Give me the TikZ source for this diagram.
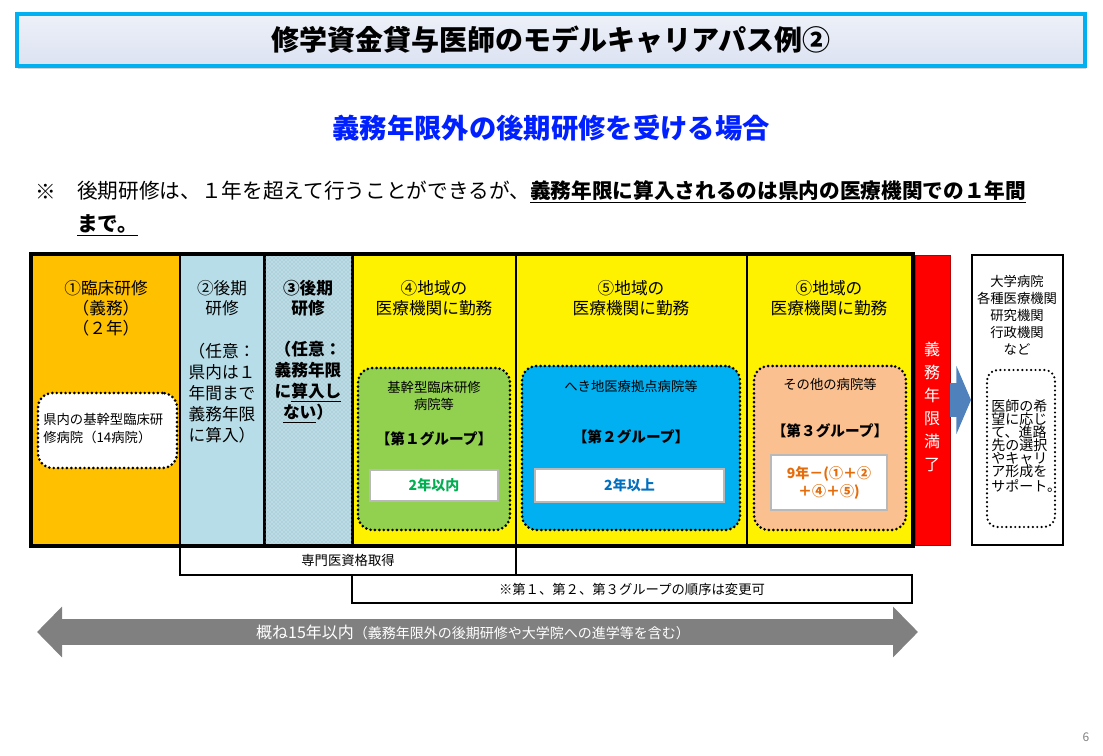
\documentclass[tikz,border=0pt]{standalone}
\usepackage{fontspec}
\setmainfont{Noto Sans CJK JP}
\usetikzlibrary{arrows.meta, positioning, calc, fit, patterns, shadows}
\definecolor{titlecyan}{HTML}{00B0F0}
\definecolor{titlefill}{HTML}{DCE2F2}
\definecolor{orangecol}{HTML}{FFC000}
\definecolor{paleblue}{HTML}{B7DDE8}
\definecolor{greenbox}{HTML}{92D050}
\definecolor{bluebox}{HTML}{00B0F0}
\definecolor{salmonbox}{HTML}{FAC090}
\definecolor{greentxt}{HTML}{00B050}
\definecolor{bluetxt}{HTML}{0070C0}
\definecolor{orangetxt}{HTML}{E46C0A}
\definecolor{subblue}{HTML}{0020FF}
\definecolor{arrowblue}{HTML}{4F81BD}
\definecolor{spangray}{HTML}{808080}
\newcommand{\fsz}[2]{\fontsize{#1}{#2}\selectfont}

\begin{document}
\begin{tikzpicture}[
  x=0.75pt, y=-0.75pt,
  colbox/.style  = {inner sep=0pt, draw, line width=1.5pt},
  colhead/.style = {align=center, inner sep=0pt, font=\fsz{12.5}{15}},
  colbody/.style = {align=center, inner sep=0pt, font=\fsz{12.5}{15.75}},
  grpbox/.style  = {inner sep=0pt, draw, line width=2.2pt, line cap=round,
                    dash pattern=on 0pt off 3.3pt, rounded corners=11pt},
  yrbox/.style   = {inner sep=0pt, draw=gray!55, line width=0.8pt, fill=white},
  grptxt/.style  = {align=center, inner sep=0pt, font=\fsz{10}{12.75}},
  grplbl/.style  = {inner sep=0pt, font=\bfseries\fsz{11}{11}},
  yrtxt/.style   = {align=center, inner sep=0pt, font=\bfseries\fsz{10.5}{13.5}},
  notebox/.style = {inner sep=0pt, draw, line width=1.2pt},
  smltxt/.style  = {inner sep=0pt, font=\fsz{10}{10}},
]
\useasboundingbox (0,0) rectangle (1103,756);

% ---------- title and heading ----------
\node[fit={(17,14)(1085,66)}, inner sep=0pt, draw=titlecyan, line width=2.5pt,
      top color=titlefill!50, middle color=white, bottom color=titlefill,
      drop shadow={shadow xshift=1pt, shadow yshift=-2.5pt, opacity=0.35}] (titlebox) {};
\node[font=\bfseries\fsz{21}{21}] (title) at (titlebox.center) {修学資金貸与医師のモデルキャリアパス例②};
\node[text=subblue, font=\bfseries\fsz{20.5}{20.5}] (subtitle) at (551,128) {義務年限外の後期研修を受ける場合};

% ---------- note ----------
\node[anchor=west, inner sep=0pt, font=\fsz{15.5}{15.5}] (kome) at (35,192) {※};
\node[anchor=west, inner sep=0pt, font=\fsz{15.5}{15.5}] (note1) at (77,192)
     {後期研修は、１年を超えて行うことができるが、\textbf{\underline{義務年限に算入されるのは県内の医療機関での１年間}}};
\node[anchor=west, inner sep=0pt, font=\fsz{15.5}{15.5}] (note2) at (77,225) {\textbf{\underline{まで。}}};

% ---------- career columns ----------
\foreach \n/\xl/\xr/\c in {c1/32/180/orangecol, c2/180/265/paleblue, c3/265/352/paleblue,
                            c4/352/516/yellow, c5/516/747/yellow, c6/747/912/yellow}{
  \node[colbox, fill=\c, fit={(\xl,255)(\xr,545)}] (\n) {};
}
\fill[pattern=crosshatch dots, pattern color=black!32] (c3.north west) rectangle (c3.south east);
\draw[line width=1.5pt] (c3.north west) -- (c3.south west) (c3.north east) -- (c3.south east);
\draw[line width=2.5pt] (c1.north west) rectangle (c6.south east);

\node[colhead] (h1) at (106,308) {①臨床研修\\（義務）\\（２年）};
\node[colhead] (h2) at (222,298) {②後期\\研修};
\node[colhead, font=\bfseries\fsz{12.5}{15}] (h3) at (308,298) {③後期\\研修};
\foreach \n/\x/\m in {h4/434/④, h5/631/⑤, h6/829/⑥}{
  \node[colhead] (\n) at (\x,298) {\m 地域の\\医療機関に勤務};
}
\node[colbody] (b2) at (222,393) {（任意：\\県内は１\\年間まで\\義務年限\\に算入）};
\node[colbody, font=\bfseries\fsz{12.5}{15.75}] (b3) at (308,382)
     {（任意：\\義務年限\\に\underline{算入し}\\\underline{ない}）};

% ---------- hospital groups ----------
\node[grpbox, fill=white, fit={(38,393)(177,468)}] (g0) {};
\node[align=left, inner sep=0pt, font=\fsz{10}{13.5}, anchor=west] (g0txt) at (43,429)
     {県内の基幹型臨床研\\修病院（14病院）};

\node[grpbox, fill=greenbox, fit={(358,368)(510,530)}] (g1) {};
\node[grptxt] (g1txt) at (434,396) {基幹型臨床研修\\病院等};
\node[grplbl] (g1lbl) at (434,439) {【第１グループ】};
\node[yrbox, fit={(370,470)(498,501)}] (y1) {};
\node[yrtxt, text=greentxt] at (y1.center) {2年以内};

\node[grpbox, fill=bluebox, fit={(522,366)(740,530)}] (g2) {};
\node[grptxt] (g2txt) at (631,386) {へき地医療拠点病院等};
\node[grplbl] (g2lbl) at (631,437) {【第２グループ】};
\node[yrbox, fit={(535,469)(724,502)}] (y2) {};
\node[yrtxt, text=bluetxt] at (y2.center) {2年以上};

\node[grpbox, fill=salmonbox, fit={(754,366)(906,530)}] (g3) {};
\node[grptxt] (g3txt) at (830,384) {その他の病院等};
\node[grplbl] (g3lbl) at (830,431) {【第３グループ】};
\node[yrbox, fit={(771,455)(887,510)}] (y3) {};
\node[yrtxt, text=orangetxt] at (y3.center) {9年－(①＋②\\＋④＋⑤)};

% ---------- end of duty term and after ----------
\node[inner sep=0pt, fill=red, draw=red!70!black, line width=0.6pt, fit={(915,255)(950,545)}] (mankyo) {};
\node[align=center, inner sep=0pt, text=white, font=\fsz{12}{17.25}] at (932,407) {義\\務\\年\\限\\満\\了};
\node[inner sep=0pt, fill=white, draw, line width=1.5pt, fit={(972,255)(1063,545)}] (dest) {};
\node[align=center, inner sep=0pt, font=\fsz{10}{12.75}] (desttxt) at (1017,315)
     {大学病院\\各種医療機関\\研究機関\\行政機関\\など};
\node[grpbox, line width=1.8pt, rounded corners=8pt, fit={(987,370)(1055,527)}] (support) {};
\node[align=left, inner sep=0pt, anchor=west, font=\fsz{10.5}{9.8}] (supptxt) at (991,446)
     {医師の希\\望に応じ\\て、進路\\先の選択\\やキャリ\\ア形成を\\サポート。};
\draw[arrowblue, line width=25pt, -{Triangle[length=11pt, width=51pt]}] (mankyo.east) -- (dest.west);

% ---------- notes under the columns ----------
\node[notebox, fit={(180,545)(516,575)}] (senmon) {};
\node[smltxt] at (senmon.center) {専門医資格取得};
\node[notebox, fit={(352,575)(912,603)}] (order) {};
\node[smltxt] at (order.center) {※第１、第２、第３グループの順序は変更可};

% ---------- overall span ----------
\coordinate (spanL) at (37,632);
\coordinate (spanR) at (918,632);
\draw[spangray, line width=20pt, {Triangle[length=18.75pt, width=37pt]}-{Triangle[length=18.75pt, width=37pt]}]
     (spanL) -- (spanR);
\node[text=white, inner sep=0pt] (spantxt) at (473,632)
     {\fsz{12}{12}概ね15年以内\fsz{10.5}{10.5}（義務年限外の後期研修や大学院への進学等を含む）};

\node[text=gray, font=\fsz{9}{9}] (pageno) at (1086,737) {6};

\end{tikzpicture}
\end{document}
